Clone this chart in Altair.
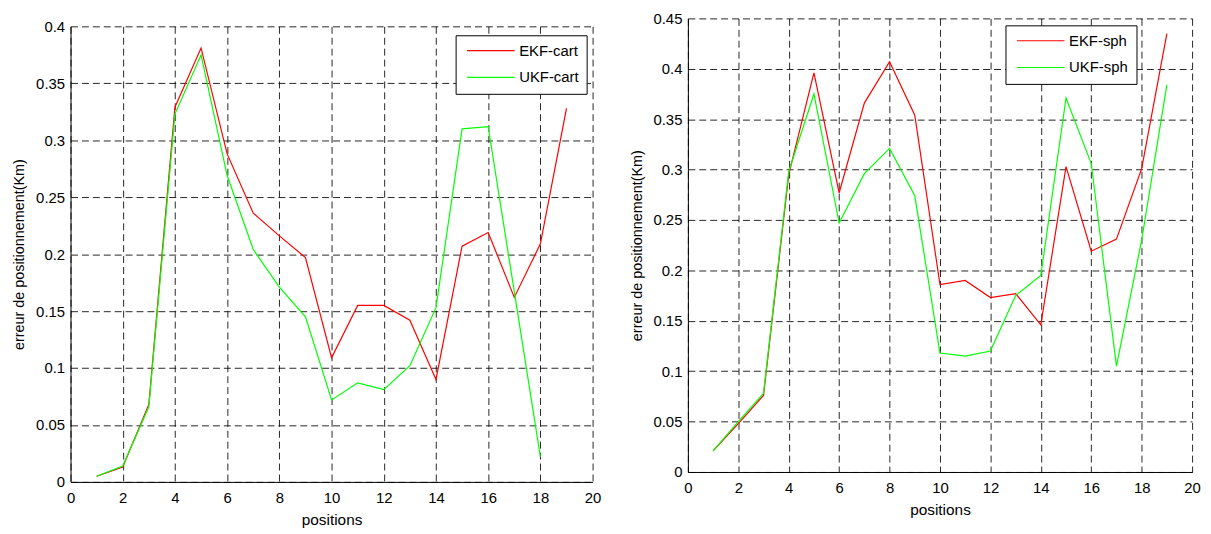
import altair as alt
import pandas as pd

positions = list(range(1, 20))

ekf_cart = [0.005, 0.013, 0.068, 0.329, 0.381, 0.288, 0.236, 0.216, 0.197, 0.109,
            0.155, 0.155, 0.142, 0.090, 0.207, 0.219, 0.162, 0.209, 0.328]
ukf_cart = [0.005, 0.014, 0.066, 0.323, 0.375, 0.269, 0.204, 0.171, 0.145, 0.072,
            0.087, 0.081, 0.102, 0.153, 0.310, 0.312, 0.167, 0.022]

ekf_sph = [0.021, 0.048, 0.076, 0.295, 0.396, 0.277, 0.366, 0.407, 0.354, 0.186,
           0.190, 0.173, 0.177, 0.146, 0.303, 0.219, 0.231, 0.301, 0.435]
ukf_sph = [0.021, 0.050, 0.078, 0.298, 0.375, 0.247, 0.296, 0.321, 0.274, 0.118,
           0.115, 0.120, 0.175, 0.195, 0.371, 0.306, 0.105, 0.230, 0.384]

x_ticks = [0, 2, 4, 6, 8, 10, 12, 14, 16, 18, 20]
y_ticks_left = [0, 0.05, 0.1, 0.15, 0.2, 0.25, 0.3, 0.35, 0.4]
y_ticks_right = [0, 0.05, 0.1, 0.15, 0.2, 0.25, 0.3, 0.35, 0.4, 0.45]

labels_left = ["EKF-cart", "UKF-cart"]
labels_right = ["EKF-sph", "UKF-sph"]
colors = ["#ff0000", "#00ff00"]


def make_df(xs, a, b, names):
    rows = []
    for x, v in zip(xs, a):
        rows.append({"position": x, "value": v, "series": names[0], "order": x})
    for x, v in zip(xs, b):
        rows.append({"position": x, "value": v, "series": names[1], "order": x})
    return pd.DataFrame(rows)


df_left = make_df(positions, ekf_cart, ukf_cart, labels_left)
df_right = make_df(positions, ekf_sph, ukf_sph, labels_right)

FONT = "Liberation Sans"


def panel(df, names, ymax, yticks, w, h, lx, ly):
    ch = alt.Chart(df).mark_line(strokeWidth=1.2).encode(
        x=alt.X("position:Q",
                scale=alt.Scale(domain=[0, 20], nice=False, zero=False),
                axis=alt.Axis(values=x_ticks, title="positions", format="~g",
                              labelFlush=False, titleFontSize=15.5)),
        y=alt.Y("value:Q",
                scale=alt.Scale(domain=[0, ymax], nice=False),
                axis=alt.Axis(values=yticks, title="erreur de positionnement(Km)", format="~g",
                              labelFlush=False)),
        color=alt.Color("series:N",
                        scale=alt.Scale(domain=names, range=colors),
                        legend=alt.Legend(title=None, orient="none", legendX=lx, legendY=ly)),
        detail="series:N",
        order="order:Q",
    )
    return ch.properties(width=w, height=h)


left = panel(df_left, labels_left, 0.4, y_ticks_left, 526, 459, 388, 17)
right = panel(df_right, labels_right, 0.45, y_ticks_right, 508, 457, 320, 7)

spacer = alt.Chart(pd.DataFrame({"a": [0]})).mark_point(opacity=0, size=1).encode(
    x=alt.value(0), y=alt.value(0)
).properties(width=1, height=1)

left_col = alt.vconcat(spacer, left, spacing=0)

chart = alt.hconcat(left_col, right, spacing=27).resolve_scale(color="independent").properties(
    padding={"left": 3, "top": 1.5, "right": 2, "bottom": 2}
).configure_view(
    stroke=None
).configure_axis(
    labelFont=FONT, labelFontSize=15, labelColor="#000",
    titleFont=FONT, titleFontSize=14.5, titleFontWeight="normal", titleColor="#000",
    ticks=False,
    domainColor="#000", domainWidth=1,
    grid=True, gridColor="#000", gridOpacity=0.85, gridDash=[7, 4], gridWidth=1,
).configure_axisX(
    labelPadding=9, titlePadding=7
).configure_axisY(
    labelPadding=6, titlePadding=9
).configure_legend(
    labelFont=FONT, labelFontSize=15, labelColor="#000",
    symbolType="M-1,0H7", symbolSize=144, symbolStrokeWidth=1.2,
    strokeColor="#000", fillColor="#ffffff", padding=8, symbolOffset=2,
    labelOffset=39, rowPadding=11,
)

chart.save("out.html", embed_options={"renderer": "svg", "actions": False})
